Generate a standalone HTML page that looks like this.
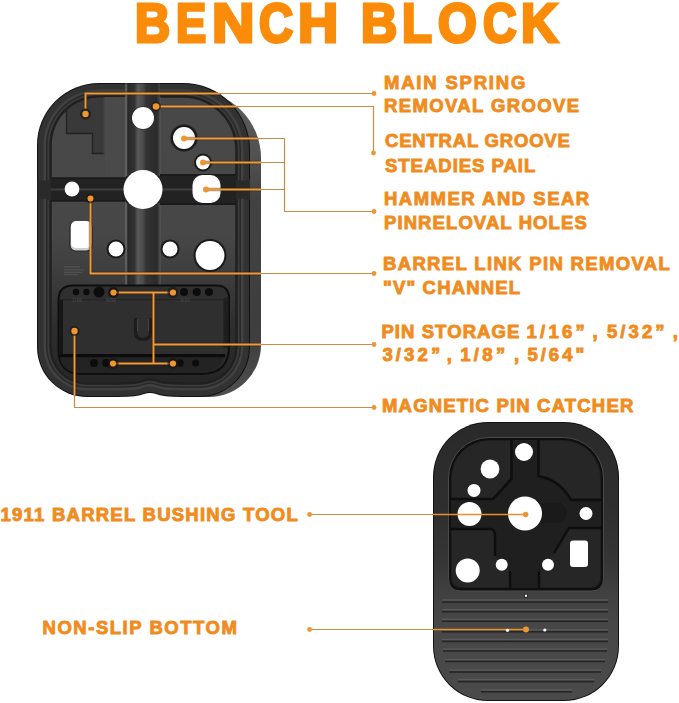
<!DOCTYPE html>
<html>
<head>
<meta charset="utf-8">
<style>
html,body{margin:0;padding:0;background:#fff;}
body{width:679px;height:703px;position:relative;overflow:hidden;}
svg{position:absolute;left:0;top:0;}
.t{position:absolute;font-family:"Liberation Sans",sans-serif;font-weight:bold;color:#F08C1E;white-space:pre;line-height:1;font-size:18.5px;-webkit-text-stroke:0.9px #F08C1E;}
#title{position:absolute;left:0;top:-4px;width:679px;height:60px;font-family:"Liberation Sans",sans-serif;font-weight:bold;font-size:55px;line-height:1;color:#FA8C0A;-webkit-text-stroke:3.2px #FA8C0A;}
#title span{position:absolute;top:0;transform-origin:0 0;}
</style>
</head>
<body>
<svg width="679" height="703" viewBox="0 0 679 703">
<defs>
  <clipPath id="facec"><path d="M51.8 145.0 A47.2 47.2 0 0 1 99.0 97.8 L183.0 97.8 A52.2 52.2 0 0 1 235.2 150.0 L235.2 347.0 A35.2 35.2 0 0 1 200.0 382.2 L87.0 382.2 A35.2 35.2 0 0 1 51.8 347.0 Z"/></clipPath>
  <linearGradient id="vg" x1="0" x2="1" y1="0" y2="0">
    <stop offset="0" stop-color="#555"/>
    <stop offset="0.06" stop-color="#2a2a2a"/>
    <stop offset="0.25" stop-color="#333"/>
    <stop offset="0.35" stop-color="#5a5a5a"/>
    <stop offset="0.5" stop-color="#4a4a4a"/>
    <stop offset="0.6" stop-color="#333"/>
    <stop offset="0.9" stop-color="#2b2b2b"/>
    <stop offset="1" stop-color="#444"/>
  </linearGradient>
  <linearGradient id="sideg" x1="0" x2="0" y1="0" y2="1">
    <stop offset="0" stop-color="#5e5e5e"/>
    <stop offset="0.2" stop-color="#525252"/>
    <stop offset="0.35" stop-color="#424242"/>
    <stop offset="0.8" stop-color="#3e3e3e"/>
    <stop offset="1" stop-color="#505050"/>
  </linearGradient>
  <linearGradient id="faceg" x1="0" x2="0" y1="0" y2="1">
    <stop offset="0" stop-color="#484848"/>
    <stop offset="0.48" stop-color="#474747"/>
    <stop offset="0.6" stop-color="#3f3f3f"/>
    <stop offset="0.8" stop-color="#2e2e2e"/>
    <stop offset="1" stop-color="#262626"/>
  </linearGradient>
  <linearGradient id="bbg" x1="0" x2="0" y1="0" y2="1">
    <stop offset="0" stop-color="#2a2a2a"/>
    <stop offset="0.3" stop-color="#2e2e2e"/>
    <stop offset="0.5" stop-color="#363636"/>
    <stop offset="0.62" stop-color="#414141"/>
    <stop offset="0.72" stop-color="#474747"/>
    <stop offset="1" stop-color="#4a4a4a"/>
  </linearGradient>
</defs>

<!-- ================= TOP BLOCK ================= -->
<g id="topblock">
<path d="M48 153.0 A62.0 62.0 0 0 1 110.0 91 L194.0 91 A67.0 67.0 0 0 1 261 158.0 L261 345.0 A52.0 52.0 0 0 1 209.0 397 L98.0 397 A50.0 50.0 0 0 1 48 347.0 Z" fill="url(#sideg)"/>
<path d="M37 145.0 A62.0 62.0 0 0 1 99.0 83 L183.0 83 A67.0 67.0 0 0 1 250 150.0 L250 347.0 A50.0 50.0 0 0 1 200.0 397 L87.0 397 A50.0 50.0 0 0 1 37 347.0 Z" fill="#121212"/>
<path d="M38 145.0 A61.0 61.0 0 0 1 99.0 84 L183.0 84 A66.0 66.0 0 0 1 249 150.0 L249 347.0 A49.0 49.0 0 0 1 200.0 396 L87.0 396 A49.0 49.0 0 0 1 38 347.0 Z" fill="#323232"/>
<path d="M43.5 145.0 A55.5 55.5 0 0 1 99.0 89.5 L183.0 89.5 A60.5 60.5 0 0 1 243.5 150.0 L243.5 347.0 A43.5 43.5 0 0 1 200.0 390.5 L87.0 390.5 A43.5 43.5 0 0 1 43.5 347.0 Z" fill="#414141"/>
<path d="M46 145.0 A53.0 53.0 0 0 1 99.0 92 L183.0 92 A58.0 58.0 0 0 1 241 150.0 L241 347.0 A41.0 41.0 0 0 1 200.0 388 L87.0 388 A41.0 41.0 0 0 1 46 347.0 Z" fill="#292929"/>
<path d="M47.5 145.0 A51.5 51.5 0 0 1 99.0 93.5 L183.0 93.5 A56.5 56.5 0 0 1 239.5 150.0 L239.5 347.0 A39.5 39.5 0 0 1 200.0 386.5 L87.0 386.5 A39.5 39.5 0 0 1 47.5 347.0 Z" fill="#3b3b3b"/>
<path d="M49.3 145.0 A49.7 49.7 0 0 1 99.0 95.3 L183.0 95.3 A54.7 54.7 0 0 1 237.7 150.0 L237.7 347.0 A37.7 37.7 0 0 1 200.0 384.7 L87.0 384.7 A37.7 37.7 0 0 1 49.3 347.0 Z" fill="#202020"/>
<path d="M51.8 145.0 A47.2 47.2 0 0 1 99.0 97.8 L183.0 97.8 A52.2 52.2 0 0 1 235.2 150.0 L235.2 347.0 A35.2 35.2 0 0 1 200.0 382.2 L87.0 382.2 A35.2 35.2 0 0 1 51.8 347.0 Z" fill="url(#faceg)"/>
<g clip-path="url(#facec)"><path d="M66.5 90 L104 90 L104 153.5 L92.5 153.5 L92.5 133.5 L66.5 133.5 Z" fill="#393939" stroke="#222" stroke-width="1.3"/><path d="M104 90 L104 153.5" stroke="#555" stroke-width="1"/></g>
<rect x="104.6" y="97" width="21" height="79" fill="#4a4a4a"/>
<rect x="126" y="83.5" width="34" height="203" fill="url(#vg)"/>
<rect x="125.3" y="83.5" width="1.3" height="203" fill="#6a6a6a"/>
<rect x="159.5" y="97" width="1.2" height="189" fill="#555"/>
<rect x="51" y="177.5" width="76" height="24" fill="#222"/><rect x="126" y="176" width="35" height="27" fill="#222"/><rect x="160" y="174" width="76" height="31" fill="#222"/><path d="M37.5 179 Q44 182 51 179 L51 200 Q44 197 37.5 200 Z" fill="#2a2a2a"/><path d="M236 179 Q243 182 250 179 L250 200 Q243 197 236 200 Z" fill="#2a2a2a"/>
<rect x="51" y="177.5" width="76" height="1.5" fill="#1a1a1a"/><rect x="160" y="174" width="76" height="2" fill="#1a1a1a"/>
<rect x="51" y="188.5" width="185" height="2" fill="#3e3e3e"/>
<rect x="51" y="200" width="76" height="1.5" fill="#1a1a1a"/><rect x="160" y="203" width="76" height="2" fill="#1a1a1a"/>
<g fill="#fff">
    <circle cx="143" cy="118" r="11.8" fill="#2a2a2a"/>
    <circle cx="143" cy="118" r="11"/>
    <circle cx="184" cy="138" r="13.5" fill="#1a1a1a"/>
    <circle cx="184" cy="138" r="11"/>
    <circle cx="203" cy="162.5" r="9" fill="#1a1a1a"/>
    <circle cx="203" cy="162.5" r="7"/>
    <circle cx="72" cy="189" r="7.4"/>
    <circle cx="143" cy="189.5" r="19.5"/>
    <rect x="192.5" y="175" width="28" height="28" rx="10" ry="10"/>
    <rect x="70" y="221.5" width="22" height="29.5" rx="5.5" ry="5.5" fill="#cfcfcf" stroke="#262626" stroke-width="1.2"/>
    <rect x="71" y="221" width="20.5" height="27" rx="5" ry="5"/>
    <circle cx="116" cy="249" r="9.5" fill="#1a1a1a"/>
    <circle cx="116" cy="249" r="7.5"/>
    <circle cx="170" cy="249" r="9.5" fill="#1a1a1a"/>
    <circle cx="170" cy="249" r="7.5"/>
    <circle cx="210" cy="255.5" r="16.5" fill="#1a1a1a"/>
    <circle cx="210" cy="255.5" r="14.4"/>
  </g>
<g stroke="#575757" stroke-width="0.9"><line x1="64" y1="266.8" x2="80" y2="266.8"/><line x1="64" y1="269.8" x2="84" y2="269.8"/><line x1="64" y1="272.3" x2="82" y2="272.3"/><line x1="64" y1="274.7" x2="78" y2="274.7"/></g>
<path d="M118 399 L118 380 Q138 380 144 377 Q150 375 156 377 Q162 380 182 380 L182 399 Z" fill="#262626"/>
<path d="M118 399 L118 382.2 Q138 382.2 144 379.2 Q150 377.2 156 379.2 Q162 382.2 182 382.2 L182 399 Z" fill="#202020"/>
<path d="M118 399 L118 384.7 Q138 384.7 144 381.7 Q150 379.7 156 381.7 Q162 384.7 182 384.7 L182 399 Z" fill="#3b3b3b"/>
<path d="M118 399 L118 386.5 Q138 386.5 144 383.5 Q150 381.5 156 383.5 Q162 386.5 182 386.5 L182 399 Z" fill="#292929"/>
<path d="M118 399 L118 388 Q138 388 144 385 Q150 383 156 385 Q162 388 182 388 L182 399 Z" fill="#414141"/>
<path d="M118 399 L118 390.5 Q138 390.5 144 387.5 Q150 385.5 156 387.5 Q162 390.5 182 390.5 L182 399 Z" fill="#323232"/>
<path d="M118 399 L118 396 Q138 396 144 393 Q150 391 156 393 Q162 396 182 396 L182 399 Z" fill="#121212"/>
<path d="M118 399 L118 397 Q138 397 144 394 Q150 392 156 394 Q162 397 182 397 L182 399 Z" fill="#ffffff"/>
<path d="M58.5 300 Q58.5 285.5 73 285.5 L216 285.5 Q229 285.5 229 298 L229 346 Q229 374 201 374 L82 374 Q58.5 374 58.5 350 Z" fill="#2f2f2f" stroke="#0e0e0e" stroke-width="2"/>
<rect x="60" y="354" width="165" height="3.5" fill="#0c0c0c"/><rect x="59.5" y="300" width="3.5" height="54" fill="#161616"/><rect x="223.5" y="298" width="5" height="50" fill="#1e1e1e"/><rect x="60" y="299" width="168" height="1.2" fill="#242424"/>
<path d="M60 357.5 L224 357.5 Q220 373 201 373 L82 373 Q62 373 60 357.5 Z" fill="#232323"/>
<path d="M135.5 318 L135.5 332 Q135.5 339.5 143 339.5 Q150.5 339.5 150.5 332 L150.5 318" fill="none" stroke="#1c1c1c" stroke-width="3.2"/><path d="M137.5 319 L137.5 331" stroke="#444" stroke-width="1"/><path d="M148.5 319 L148.5 331" stroke="#444" stroke-width="1"/>
<g fill="#0c0c0c">
    <circle cx="76" cy="292" r="3.2"/>
    <circle cx="86.5" cy="292" r="3.2"/>
    <circle cx="99" cy="292" r="5.5"/>
    <circle cx="113.6" cy="292.5" r="5"/>
    <circle cx="184" cy="292" r="4"/>
    <circle cx="196.7" cy="292" r="4"/>
    <circle cx="209" cy="292" r="4"/>
    <circle cx="94" cy="363" r="4"/>
    <circle cx="106.2" cy="363" r="4"/>
    <circle cx="113" cy="363" r="4.5"/>
    <circle cx="173" cy="363" r="4.5"/>
    <circle cx="180" cy="363" r="3.8"/>
    <circle cx="195.7" cy="363" r="3.5"/>
  </g>
<g fill="#444" font-family="Liberation Sans" font-size="5" font-weight="bold"><text x="72" y="302">1/16</text><text x="106" y="302">5/32</text><text x="180" y="302">3/32</text></g>
</g>

<!-- ================= BOTTOM BLOCK ================= -->
<g id="botblock">
<rect x="433" y="422" width="186" height="279" rx="55" ry="55" fill="#111"/>
<rect x="434" y="423" width="184" height="277" rx="54" ry="54" fill="url(#bbg)"/>
<path d="M448.5 578 L448.5 478 A40.5 40.5 0 0 1 489 437.5 L563 437.5 A40.5 40.5 0 0 1 603.5 478 L603.5 578 Q603.5 591 591 591 L461 591 Q448.5 591 448.5 578 Z" fill="#0f0f0f" stroke="#4a4a4a" stroke-width="1"/>
<path d="M451 588 L451 478 A38 38 0 0 1 489 440 L563 440 A38 38 0 0 1 601 478 L601 577 Q601 588 590 588 L462 588 Q451 588 451 577 Z" fill="#1f1f1f"/>
<g fill="#262626"><path d="M452 498 L452 478 A37 37 0 0 1 489 441 L510 441 L510 478 L492 498 Z"/><path d="M600 498 L600 478 A37 37 0 0 0 563 441 L539 441 L539 476 Q560 480 571 498 Z"/><path d="M452 530 L492 530 L495 535 L495 556 L509 571 L509 587 L462 587 Q452 587 452 577 Z"/><path d="M600 529 L569 529 L554 553 L540 571 L540 587 L590 587 Q600 587 600 577 Z"/></g>
<rect x="525" y="503" width="42" height="20" rx="10" fill="#1a1a1a"/>
<g fill="none" stroke="#0e0e0e" stroke-width="2.4"><path d="M511.5 440 L511.5 479 L493 499 L451 499"/><path d="M538.5 440 L538.5 476 Q560 480 571 500 L601 500"/><path d="M451 529 L492 529 Q495 531 495 535 L495 556"/><path d="M510 571 L510 588"/><path d="M601 528 L569 528 L554 553"/><path d="M539 571 L539 588"/></g>
<g>
<rect x="442" y="599.4" width="166" height="1.2" fill="#5c5c5c"/><rect x="442" y="601.2" width="166" height="1.6" fill="#262626"/>
<rect x="442" y="609.1" width="166" height="1.2" fill="#5c5c5c"/><rect x="442" y="610.9" width="166" height="1.6" fill="#262626"/>
<rect x="442" y="618.7" width="166" height="1.2" fill="#5c5c5c"/><rect x="442" y="620.5" width="166" height="1.6" fill="#262626"/>
<rect x="442" y="629.2" width="166" height="1.2" fill="#5c5c5c"/><rect x="442" y="631.0" width="166" height="1.6" fill="#262626"/>
<rect x="442" y="638.8" width="166" height="1.2" fill="#5c5c5c"/><rect x="442" y="640.6" width="166" height="1.6" fill="#262626"/>
<rect x="443" y="648.4" width="164" height="1.2" fill="#5c5c5c"/><rect x="443" y="650.2" width="164" height="1.6" fill="#262626"/>
<rect x="445" y="658.9" width="160" height="1.2" fill="#5c5c5c"/><rect x="445" y="660.7" width="160" height="1.6" fill="#262626"/>
<rect x="449" y="669.4" width="152" height="1.2" fill="#5c5c5c"/><rect x="449" y="671.2" width="152" height="1.6" fill="#262626"/>
<rect x="458" y="679.0" width="136" height="1.2" fill="#5c5c5c"/><rect x="458" y="680.8" width="136" height="1.6" fill="#262626"/>
<rect x="481" y="689.2" width="91" height="1.2" fill="#5c5c5c"/><rect x="481" y="691.0" width="91" height="1.6" fill="#262626"/>
</g>
<g fill="#fff">
    <circle cx="524" cy="452" r="9"/>
    <circle cx="490" cy="469" r="9.4"/>
    <circle cx="474" cy="490.4" r="6.5"/>
    <circle cx="469.5" cy="514" r="12"/>
    <circle cx="525" cy="513.5" r="17"/>
    <circle cx="586" cy="513.5" r="6.5"/>
    <circle cx="467.7" cy="570.4" r="12"/>
    <circle cx="501.7" cy="564.8" r="6"/>
    <circle cx="548" cy="564.8" r="6"/>
    <rect x="570" y="540.5" width="18" height="26.5" rx="3"/>
    <circle cx="526" cy="595.7" r="2" fill="#111"/>
    <circle cx="526" cy="595.7" r="1.2"/>
  </g>
</g>

<!-- ================= CALLOUTS ================= -->
<defs>
  <clipPath id="blk2"><rect x="433" y="422" width="186" height="279" rx="55"/></clipPath>
  <clipPath id="blk">
    <path d="M37 145.0 A62.0 62.0 0 0 1 99.0 83 L183.0 83 A67.0 67.0 0 0 1 250 150.0 L250 347.0 A50.0 50.0 0 0 1 200.0 397 L87.0 397 A50.0 50.0 0 0 1 37 347.0 Z" /><path d="M48 153.0 A62.0 62.0 0 0 1 110.0 91 L194.0 91 A67.0 67.0 0 0 1 261 158.0 L261 345.0 A52.0 52.0 0 0 1 209.0 397 L98.0 397 A50.0 50.0 0 0 1 48 347.0 Z" />
  </clipPath>
</defs>
<g stroke="#C48D48" stroke-width="1.2" fill="none">
  <polyline points="85.5,114 85.5,93.5 374,93.5"/>
  <polyline points="156,106.5 373.5,106.5 373.5,153"/>
  <line x1="184" y1="138.5" x2="284.5" y2="138.5"/>
  <line x1="203" y1="162.5" x2="284.5" y2="162.5"/>
  <line x1="206" y1="189.5" x2="284.5" y2="189.5"/>
  <polyline points="284.5,138.5 284.5,211.5 374,211.5"/>
  <polyline points="90.5,198.5 90.5,273.5 374,273.5"/>
  <line x1="113.5" y1="292.5" x2="173" y2="292.5"/>
  <line x1="113" y1="363.5" x2="173" y2="363.5"/>
  <line x1="153.5" y1="292.5" x2="153.5" y2="363.5"/>
  <line x1="153.5" y1="344.5" x2="374" y2="344.5"/>
  <polyline points="74.5,331 74.5,407.5 374,407.5"/>
  <line x1="309.6" y1="514.5" x2="525.7" y2="514.5"/>
  <line x1="309.6" y1="629.5" x2="526" y2="629.5"/>
</g>
<g clip-path="url(#blk)">
<g stroke="#2a1c0a" stroke-opacity="0.45" stroke-width="3.4" fill="none">
  <polyline points="85.5,114 85.5,93.5 374,93.5"/>
  <polyline points="156,106.5 373.5,106.5 373.5,153"/>
  <line x1="184" y1="138.5" x2="284.5" y2="138.5"/>
  <line x1="203" y1="162.5" x2="284.5" y2="162.5"/>
  <line x1="206" y1="189.5" x2="284.5" y2="189.5"/>
  <polyline points="284.5,138.5 284.5,211.5 374,211.5"/>
  <polyline points="90.5,198.5 90.5,273.5 374,273.5"/>
  <line x1="113.5" y1="292.5" x2="173" y2="292.5"/>
  <line x1="113" y1="363.5" x2="173" y2="363.5"/>
  <line x1="153.5" y1="292.5" x2="153.5" y2="363.5"/>
  <line x1="153.5" y1="344.5" x2="374" y2="344.5"/>
  <polyline points="74.5,331 74.5,407.5 374,407.5"/>
  <line x1="309.6" y1="514.5" x2="525.7" y2="514.5"/>
  <line x1="309.6" y1="629.5" x2="526" y2="629.5"/>
</g>
<g stroke="#F09A38" stroke-width="1.9" fill="none">
  <polyline points="85.5,114 85.5,93.5 374,93.5"/>
  <polyline points="156,106.5 373.5,106.5 373.5,153"/>
  <line x1="184" y1="138.5" x2="284.5" y2="138.5"/>
  <line x1="203" y1="162.5" x2="284.5" y2="162.5"/>
  <line x1="206" y1="189.5" x2="284.5" y2="189.5"/>
  <polyline points="284.5,138.5 284.5,211.5 374,211.5"/>
  <polyline points="90.5,198.5 90.5,273.5 374,273.5"/>
  <line x1="113.5" y1="292.5" x2="173" y2="292.5"/>
  <line x1="113" y1="363.5" x2="173" y2="363.5"/>
  <line x1="153.5" y1="292.5" x2="153.5" y2="363.5"/>
  <line x1="153.5" y1="344.5" x2="374" y2="344.5"/>
  <polyline points="74.5,331 74.5,407.5 374,407.5"/>
  <line x1="309.6" y1="514.5" x2="525.7" y2="514.5"/>
  <line x1="309.6" y1="629.5" x2="526" y2="629.5"/>
</g>
</g>
<circle cx="156" cy="106.5" r="5" fill="#1a1a1a" fill-opacity="0.7"/><circle cx="90.5" cy="198.5" r="4.8" fill="#1a1a1a" fill-opacity="0.7"/><circle cx="113.5" cy="292.5" r="5.5" fill="#1a1a1a" fill-opacity="0.7"/><circle cx="173" cy="292.5" r="5.5" fill="#1a1a1a" fill-opacity="0.7"/><circle cx="113" cy="363.5" r="5.5" fill="#1a1a1a" fill-opacity="0.7"/><circle cx="173" cy="363.5" r="5.5" fill="#1a1a1a" fill-opacity="0.7"/><circle cx="74.5" cy="331" r="5" fill="#1a1a1a" fill-opacity="0.7"/>
<g fill="#F0962E">
  <circle cx="85.5" cy="114" r="5.6" fill="#222"/>
  <circle cx="85.5" cy="114" r="3.2"/>
  <circle cx="374" cy="93.5" r="2.4"/>
  <circle cx="156" cy="106.5" r="3.3"/>
  <circle cx="373.5" cy="153" r="2.4"/>
  <circle cx="184" cy="138.5" r="3"/>
  <circle cx="203" cy="162.5" r="3"/>
  <circle cx="206" cy="189.5" r="3"/>
  <circle cx="374" cy="211.5" r="2.4"/>
  <circle cx="90.5" cy="198.5" r="3"/>
  <circle cx="374" cy="273.5" r="2.4"/>
  <circle cx="113.5" cy="292.5" r="3.1"/>
  <circle cx="173" cy="292.5" r="3.1"/>
  <circle cx="113" cy="363.5" r="3.1"/>
  <circle cx="173" cy="363.5" r="3.1"/>
  <circle cx="374" cy="344.5" r="2.4"/>
  <circle cx="74.5" cy="331" r="3.2"/>
  <circle cx="374" cy="407.5" r="2.4"/>
  <circle cx="309.6" cy="514.5" r="2.4"/>
  <circle cx="525.7" cy="514.5" r="2.7"/>
  <circle cx="309.6" cy="629.5" r="2.4"/>
  <circle cx="526" cy="629.5" r="3"/>
</g>
<g clip-path="url(#blk2)" stroke="#E8902C" stroke-width="1.6" fill="none">
  <line x1="433" y1="514.5" x2="525.7" y2="514.5"/>
  <line x1="433" y1="629.5" x2="526" y2="629.5"/>
</g>
<circle cx="507.5" cy="630.3" r="1.6" fill="#fff"/>
<circle cx="544.8" cy="630" r="1.6" fill="#fff"/>
</svg>

<div id="title"><span style="left:134.5px;transform:scaleX(0.8848)">B</span><span style="left:175.5px;transform:scaleX(0.8217)">E</span><span style="left:212.0px;transform:scaleX(1.069)">N</span><span style="left:259.0px;transform:scaleX(0.8564)">C</span><span style="left:298.0px;transform:scaleX(1.0124)">H</span><span style="left:360.5px;transform:scaleX(0.912)">B</span><span style="left:402.0px;transform:scaleX(0.8912)">L</span><span style="left:437.5px;transform:scaleX(0.9073)">O</span><span style="left:482.5px;transform:scaleX(0.8437)">C</span><span style="left:521.0px;transform:scaleX(0.9315)">K</span></div>
<div class="t" style="left:384.0px;top:73.5px;letter-spacing:1.80px">MAIN SPRING</div>
<div class="t" style="left:384.0px;top:97.4px;letter-spacing:1.38px">REMOVAL GROOVE</div>
<div class="t" style="left:385.0px;top:132.2px;letter-spacing:0.80px">CENTRAL GROOVE</div>
<div class="t" style="left:385.0px;top:156.7px;letter-spacing:0.99px">STEADIES PAIL</div>
<div class="t" style="left:384.0px;top:190.4px;letter-spacing:1.49px">HAMMER AND SEAR</div>
<div class="t" style="left:384.0px;top:213.8px;letter-spacing:1.09px">PINRELOVAL HOLES</div>
<div class="t" style="left:383.0px;top:255.0px;letter-spacing:1.34px">BARREL LINK PIN REMOVAL</div>
<div class="t" style="left:383.0px;top:278.8px;letter-spacing:1.15px">&quot;V&quot; CHANNEL</div>
<div class="t" style="left:381.4px;top:323.1px;letter-spacing:1.08px">PIN STORAGE</div>
<div class="t" style="left:526.5px;top:323.1px;letter-spacing:3.24px">1/16”</div>
<div class="t" style="left:592.6px;top:323.1px;letter-spacing:0.00px">,</div>
<div class="t" style="left:606.9px;top:323.1px;letter-spacing:3.10px">5/32”</div>
<div class="t" style="left:672.8px;top:323.1px;letter-spacing:0.00px">,</div>
<div class="t" style="left:382.4px;top:345.9px;letter-spacing:3.15px">3/32”</div>
<div class="t" style="left:446.8px;top:345.9px;letter-spacing:0.00px">,</div>
<div class="t" style="left:460.2px;top:345.9px;letter-spacing:3.36px">1/8”</div>
<div class="t" style="left:513.9px;top:345.9px;letter-spacing:0.00px">,</div>
<div class="t" style="left:527.5px;top:345.9px;letter-spacing:2.97px">5/64&quot;</div>
<div class="t" style="left:382.0px;top:397.1px;letter-spacing:1.18px">MAGNETIC PIN CATCHER</div>
<div class="t" style="left:0.4px;top:505.5px;letter-spacing:1.25px">1911 BARREL BUSHING TOOL</div>
<div class="t" style="left:42.5px;top:618.5px;letter-spacing:1.53px">NON-SLIP BOTTOM</div>
</body>
</html>
